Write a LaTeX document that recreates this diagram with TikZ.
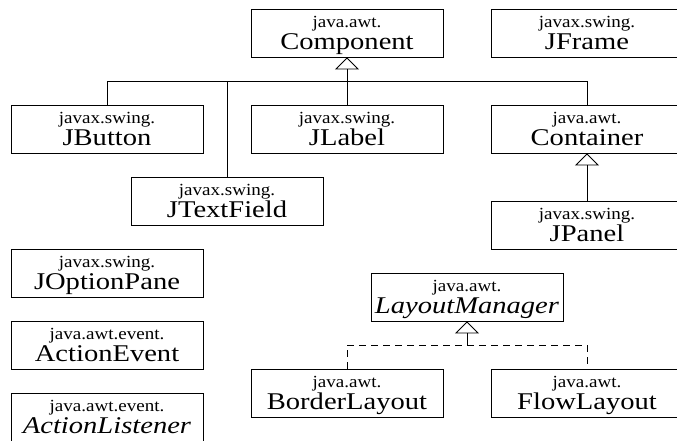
\documentclass[tikz,border=0pt]{standalone}
\usepackage{fontspec}
\setmainfont[FakeStretch=1.19]{Liberation Serif}
\newfontfamily\pkgfamily[FakeStretch=1.12]{Liberation Serif}
\usetikzlibrary{arrows.meta, positioning}

\newcommand\pkgfont{\pkgfamily\fontsize{17}{18}\selectfont}
\newcommand\clsfont{\fontsize{24}{22.7}\selectfont\lineskiplimit=-20pt}
\newcommand\cls[2]{{\pkgfont\rule{0pt}{16pt}#1}\\\rule[-5.3pt]{0pt}{5.3pt}#2}

\begin{document}
\begin{tikzpicture}[x=1pt, y=-1pt,
  classbox/.style={rectangle, draw, line width=0.9pt, minimum width=192pt,
                   minimum height=48pt, inner sep=0pt, align=center,
                   font=\clsfont},
  inherit/.style={-{Triangle[open, width=24pt, length=12pt]}, line width=0.9pt},
  tree/.style={line width=0.9pt},
  realize/.style={line width=0.9pt, dash pattern=on 7pt off 5pt}
]
\clip (0,0) rectangle (677,440);

% Component hierarchy
\node[classbox] (comp) at (347,33) {\cls{java.awt.}{Component}};
\node[classbox] (frame) at (587,33) {\cls{javax.swing.}{JFrame}};
\node[classbox] (button) at (107,129) {\cls{javax.swing.}{JButton}};
\node[classbox] (label) at (347,129) {\cls{javax.swing.}{JLabel}};
\node[classbox] (cont) at (587,129) {\cls{java.awt.}{Container}};
\node[classbox] (tfield) at (227,201) {\cls{javax.swing.}{JTextField}};
\node[classbox] (panel) at (587,225) {\cls{javax.swing.}{JPanel}};

% Stand-alone classes
\node[classbox] (optpane) at (107,273) {\cls{javax.swing.}{JOptionPane}};
\node[classbox] (actev) at (107,345) {\cls{java.awt.event.}{ActionEvent}};
\node[classbox] (actlist) at (107,417) {\cls{java.awt.event.}{\itshape ActionListener}};

% Layout managers
\node[classbox] (layman) at (467,297) {\cls{java.awt.}{\itshape LayoutManager}};
\node[classbox] (border) at (347,393) {\cls{java.awt.}{BorderLayout}};
\node[classbox] (flow) at (587,393) {\cls{java.awt.}{FlowLayout}};

% Inheritance
\coordinate (bar) at (347,81);
\draw[inherit] (label.north) -- (comp.south);
\draw[tree] (button.north) -- (button.north |- bar) -- (cont.north |- bar) -- (cont.north);
\draw[tree] (tfield.north) -- (tfield.north |- bar);
\draw[inherit] (panel.north) -- (cont.south);

% Implementation
\coordinate (dashbar) at (467,345);
\draw[inherit] (dashbar) -- (layman.south);
\draw[realize] (border.north) |- (dashbar) -| (flow.north);

\end{tikzpicture}
\end{document}
